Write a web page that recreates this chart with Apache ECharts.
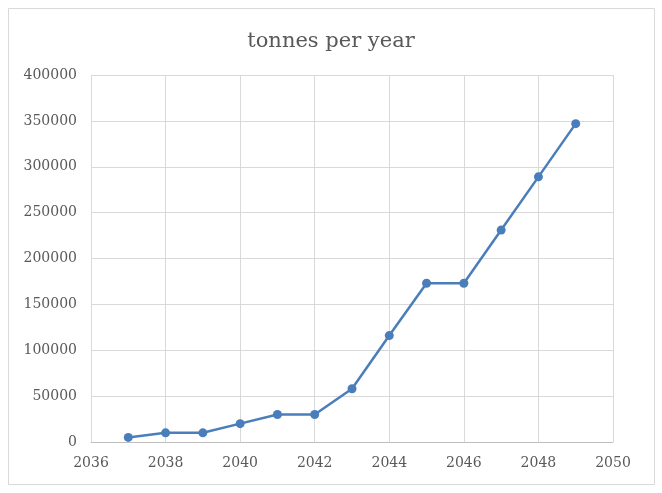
<!DOCTYPE html>
<html>
<head>
<meta charset="utf-8">
<script src="https://cdn.jsdelivr.net/npm/echarts@6/dist/echarts.min.js"></script>
<style>
html,body{margin:0;padding:0;background:#fff;}
#c{width:662px;height:493px;}
</style>
</head>
<body>
<div id="c"></div>
<script>
var years = [2037, 2038, 2039, 2040, 2041, 2042, 2043, 2044, 2045, 2046, 2047, 2048, 2049];
var tonnes = [5000, 10000, 10000, 20000, 30000, 30000, 58000, 116000, 173000, 173000, 231000, 289000, 347000];
var titleText = 'tonnes per year';

var chart = echarts.init(document.getElementById('c'));
var font = '"DejaVu Serif", "Liberation Serif", serif';
chart.setOption({
  animation: false,
  backgroundColor: '#fff',
  graphic: [{
    type: 'rect',
    shape: {x: 8.5, y: 8.5, width: 646, height: 476},
    style: {fill: 'none', stroke: '#d9d9d9', lineWidth: 1},
    silent: true
  }],
  title: {
    text: titleText,
    left: 'center',
    top: 26,
    textStyle: {fontFamily: font, fontSize: 21, fontWeight: 'normal', color: '#595959'}
  },
  grid: {left: 91, right: 49, top: 75, bottom: 51, containLabel: false},
  xAxis: {
    type: 'value',
    min: 2036, max: 2050, interval: 2,
    axisLine: {show: true, lineStyle: {color: '#bfbfbf', width: 1}},
    axisTick: {show: false},
    axisLabel: {fontFamily: font, fontSize: 14, color: '#595959', margin: 14,
      formatter: function (v) { return String(v); }},
    splitLine: {show: true, lineStyle: {color: '#d9d9d9', width: 1}}
  },
  yAxis: {
    type: 'value',
    min: 0, max: 400000, interval: 50000,
    axisLine: {show: false},
    axisTick: {show: false},
    axisLabel: {fontFamily: font, fontSize: 14, color: '#595959', margin: 14,
      formatter: function (v) { return String(v); }},
    splitLine: {show: true, lineStyle: {color: '#d9d9d9', width: 1}}
  },
  series: [{
    type: 'line',
    data: years.map(function (y, i) { return [y, tonnes[i]]; }),
    symbol: 'circle',
    symbolSize: 9,
    lineStyle: {color: '#4a7ebb', width: 2.5},
    itemStyle: {color: '#4a7ebb'}
  }]
});
</script>
</body>
</html>
